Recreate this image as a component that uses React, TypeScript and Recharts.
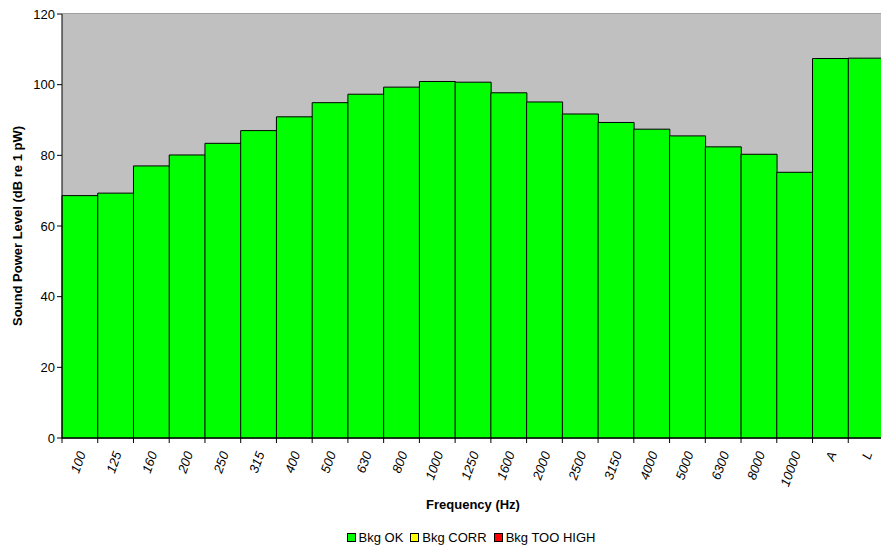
import { Bar, BarChart, CartesianGrid, Label, Legend, XAxis, YAxis } from 'recharts'

const categories = [
  '100', '125', '160', '200', '250', '315', '400', '500', '630', '800', '1000', '1250',
  '1600', '2000', '2500', '3150', '4000', '5000', '6300', '8000', '10000', 'A', 'L',
]
const bkgOk = [
  68.6, 69.3, 77.0, 80.1, 83.4, 87.0, 90.9, 94.9, 97.3, 99.3, 100.9, 100.7,
  97.7, 95.1, 91.7, 89.3, 87.4, 85.5, 82.4, 80.3, 75.2, 107.4, 107.5,
]
const yTicks = [0, 20, 40, 60, 80, 100, 120]
const legendItems = [
  { name: 'Bkg OK', color: '#00ff00' },
  { name: 'Bkg CORR', color: '#ffff00' },
  { name: 'Bkg TOO HIGH', color: '#ff0000' },
]

const font = '"Liberation Sans", Arial, sans-serif'

const data = categories.map((freq, i) => ({ freq, ok: bkgOk[i] }))

function FreqTick(props: any) {
  const { x, y, payload, width, index } = props
  const band = (width || 822) / categories.length
  const edge = x - band / 2
  return (
    <g>
      <line x1={edge} y1={y - 8} x2={edge} y2={y - 3} stroke="#000" />
      {index === categories.length - 1 ? (
        <line x1={edge + band} y1={y - 8} x2={edge + band} y2={y - 3} stroke="#000" />
      ) : null}
      <text
        x={x + 2}
        y={y + 6}
        transform={`rotate(-70 ${x + 2} ${y + 6})`}
        textAnchor="end"
        dominantBaseline="central"
        fontSize={13}
        fontStyle="italic"
        fontFamily={font}
        fill="#000"
      >
        {payload.value}
      </text>
    </g>
  )
}

function LegendBox() {
  return (
    <div
      style={{
        display: 'flex',
        justifyContent: 'center',
        gap: 7,
        fontFamily: font,
        fontSize: 13,
        height: 20,
        alignItems: 'center',
        paddingLeft: 58,
      }}
    >
      {legendItems.map((item) => (
        <span key={item.name} style={{ display: 'flex', alignItems: 'center' }}>
          <span
            style={{
              width: 7,
              height: 7,
              background: item.color,
              border: '1px solid #000',
              marginRight: 3,
            }}
          />
          {item.name}
        </span>
      ))}
    </div>
  )
}

export default function App() {
  return (
    <div style={{ position: 'absolute', left: 0, top: 0, width: 881, height: 549, overflow: 'hidden', background: '#fff' }}>
      <BarChart
        width={890}
        height={549}
        data={data}
        barCategoryGap={0}
        margin={{ top: 14, right: 6, left: 0, bottom: 2 }}
      >
        <rect x={62} y={14} width={822} height={424} fill="#c0c0c0" />
        <CartesianGrid vertical={false} stroke="#404040" strokeWidth={1} />
        <XAxis
          dataKey="freq"
          height={89}
          interval={0}
          tickLine={false}
          axisLine={{ stroke: '#000' }}
          tick={<FreqTick />}
        >
          <Label
            value="Frequency (Hz)"
            position="insideBottom"
            offset={18}
            style={{ fontFamily: font, fontSize: 13, fontWeight: 'bold', fill: '#000' }}
          />
        </XAxis>
        <YAxis
          domain={[0, 120]}
          ticks={yTicks}
          width={62}
          tickSize={5}
          tickLine={{ stroke: '#000' }}
          axisLine={{ stroke: '#000' }}
          tick={{ fill: '#000', fontSize: 13, fontFamily: font }}
        >
          <Label
            value="Sound Power Level (dB re 1 pW)"
            angle={-90}
            position="insideLeft"
            offset={17}
            style={{ fontFamily: font, fontSize: 13, fontWeight: 'bold', fill: '#000', textAnchor: 'middle' }}
          />
        </YAxis>
        <Legend verticalAlign="bottom" content={<LegendBox />} />
        <Bar dataKey="ok" name="Bkg OK" fill="#00ff00" stroke="#000" strokeWidth={1} isAnimationActive={false} />
      </BarChart>
    </div>
  )
}
